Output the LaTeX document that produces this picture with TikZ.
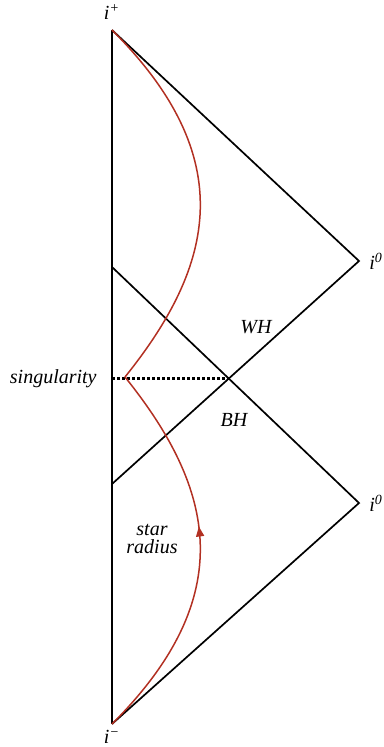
\documentclass[tikz,border=0pt]{standalone}
\usepackage{fontspec}
\setmainfont{Liberation Serif}
\usetikzlibrary{arrows.meta,positioning,decorations.markings}
\definecolor{worldred}{RGB}{178,48,34}

\begin{document}
\begin{tikzpicture}[
    x=0.5pt, y=-0.5pt,
    node distance=2pt and 4pt,
    edge/.style={line width=0.85pt},
    worldln/.style={worldred, line width=0.75pt},
    lbl/.style={font=\itshape, inner sep=1pt},
    flow/.style={postaction={decorate}, decoration={markings,
        mark=at position 0.57 with {\arrow{Triangle[length=5pt,width=4pt]}}}}
]
\useasboundingbox (0,0) rectangle (384,747);
% corners of the diagram
\coordinate (iplus) at (112,30);
\coordinate (iminus) at (112,724);
\coordinate (itop) at (359,261);
\coordinate (ibot) at (359,503);
\coordinate (wh) at (112,267);
\coordinate (bh) at (112,484);
\coordinate (cross) at (intersection of wh--ibot and bh--itop);
\coordinate (sing) at (iplus |- cross);
\coordinate (kink) at (125,377);
% light cone edges
\draw[edge] (iplus) -- (iminus);
\draw[edge] (iplus) -- (itop) -- (bh);
\draw[edge] (wh) -- (ibot) -- (iminus);
\draw[line width=1.2pt, dash pattern=on 1.4pt off 1.1pt] (sing) -- (cross);
% star surface
\draw[worldln] (kink) .. controls (215,265) and (240,158) .. (iplus);
\draw[worldln, flow] (iminus) .. controls (240,596) and (215,489) .. (kink);
% labels
\node[lbl, above=4pt of iplus] (lplus) {i\textsuperscript{+}};
\node[lbl, below=of iminus] (lminus) {i\textsuperscript{−}};
\node[lbl, right=of itop] (ltop) {i\textsuperscript{0}};
\node[lbl, right=of ibot] (lbot) {i\textsuperscript{0}};
\node[lbl, left=6.5pt of sing] (lsing) {singularity};
\node[lbl] (lwh) at (256,327) {WH};
\node[lbl] (lbh) at (234,420) {BH};
\node[lbl, align=center] (lstar) at (152,539) {star\\[-3pt]radius};
\end{tikzpicture}
\end{document}
